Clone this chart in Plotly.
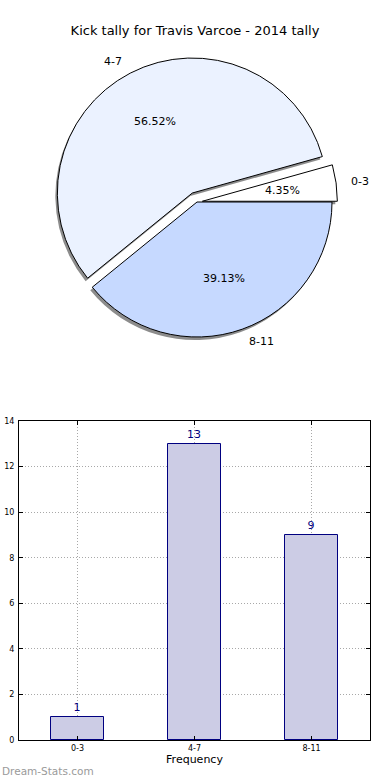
import math
import plotly.graph_objects as go

# ---- data ----
categories = ["0-3", "4-7", "8-11"]
counts = [1, 13, 9]
pie_colors = ["#FFFFFF", "#EBF2FF", "#C6D9FF"]
pie_pull = [0.04, 0.075, 0.0]
title_text = "Kick tally for Travis Varcoe - 2014 tally"
y_ticks = [0, 2, 4, 6, 8, 10, 12, 14]

W, H = 390, 780
FONT = "DejaVu Sans"


def px_x(x):
    return x / W


def px_y(y):
    return 1 - y / H


# pie geometry (window pixels)
cx, cy, r = 197, 202, 135
s = r * (1 + max(pie_pull))


def dom(cx_, cy_):
    return dict(x=[px_x(cx_ - s), px_x(cx_ + s)],
                y=[px_y(cy_ + s), px_y(cy_ - s)])


# plotted clockwise from 3 o'clock in reverse order == counterclockwise in order
rev = slice(None, None, -1)

fig = go.Figure()

# shadow
fig.add_trace(go.Pie(
    labels=categories[rev], values=counts[rev], sort=False, direction="clockwise",
    rotation=90, pull=pie_pull[rev], domain=dom(cx - 2, cy + 3),
    marker=dict(colors=["rgba(0,0,0,0.45)"] * 3, line=dict(width=0)),
    textinfo="none", hoverinfo="skip", showlegend=False))

# main pie
fig.add_trace(go.Pie(
    labels=categories[rev], values=counts[rev], sort=False, direction="clockwise",
    rotation=90, pull=pie_pull[rev], domain=dom(cx, cy),
    marker=dict(colors=pie_colors[rev], line=dict(color="#000000", width=1)),
    textinfo="none", hoverinfo="label+value", showlegend=False))

# percent and category labels placed along each slice's mid-angle
total = sum(counts)
annotations = []
cum = 0.0
for cat, v, p in zip(categories, counts, pie_pull):
    frac = v / total
    mid = math.radians((cum + frac / 2) * 360)
    cum += frac
    ox = cx + p * r * math.cos(mid)
    oy = cy - p * r * math.sin(mid)
    tx = ox + 0.6 * r * math.cos(mid)
    ty = oy - 0.6 * r * math.sin(mid)
    annotations.append(dict(text=f"{frac * 100:.2f}%", xref="paper", yref="paper",
                            x=px_x(tx), y=px_y(ty), xanchor="center", yanchor="middle",
                            showarrow=False,
                            font=dict(family=FONT, size=11, color="#000000")))
    lx = ox + 1.1 * r * math.cos(mid)
    ly = oy - 1.1 * r * math.sin(mid)
    annotations.append(dict(text=cat, xref="paper", yref="paper",
                            x=px_x(lx), y=px_y(ly),
                            xanchor="left" if math.cos(mid) >= 0 else "right",
                            yanchor="middle", showarrow=False,
                            font=dict(family=FONT, size=11, color="#000000")))

# y-axis title, mostly beyond the left edge as in the reference
annotations.append(dict(text="Distribution", xref="paper", yref="paper",
                        x=px_x(3), y=px_y(580), xanchor="right", yanchor="middle",
                        textangle=-90, showarrow=False,
                        font=dict(family=FONT, size=11, color="#000000")))

annotations.append(dict(text="Dream-Stats.com", xref="paper", yref="paper",
                        x=px_x(0), y=px_y(771), xanchor="left", yanchor="middle",
                        showarrow=False,
                        font=dict(family=FONT, size=10.5, color="#9A9A9A")))

# bar chart
fig.add_trace(go.Bar(
    x=categories, y=counts, width=0.45,
    marker=dict(color="#CCCCE5", line=dict(color="#000080", width=1)),
    text=[str(v) for v in counts], textposition="outside",
    textfont=dict(family=FONT, size=11, color="#000080"),
    cliponaxis=False, showlegend=False))

axis_common = dict(showline=True, mirror="ticks", linecolor="#000000", linewidth=1,
                   showgrid=True, gridcolor="#A8A8A8", griddash="1px,2px",
                   ticks="inside", ticklen=4, tickcolor="#000000",
                   tickfont=dict(family=FONT, size=8), zeroline=False,
                   automargin=False)

fig.update_layout(
    width=W, height=H,
    margin=dict(l=0, r=0, t=0, b=0),
    paper_bgcolor="white", plot_bgcolor="white",
    font=dict(family=FONT, color="#000000"),
    title=dict(text=title_text, x=px_x(195), xanchor="center", y=px_y(30),
               yanchor="middle", font=dict(family=FONT, size=13)),
    xaxis=dict(domain=[px_x(19), px_x(370)], range=[-0.5, 2.5],
               title=dict(text="Frequency", font=dict(family=FONT, size=11),
                          standoff=2),
               **axis_common),
    yaxis=dict(domain=[px_y(740), px_y(421)], range=[0, 14],
               tickvals=y_ticks, ticklabelstandoff=2,
               **axis_common),
    bargap=0,
    annotations=annotations,
)

fig.write_html("out.html",
               config={"displayModeBar": False},
               post_script="document.body.style.margin='0';"
                           "document.body.style.overflow='hidden';")
